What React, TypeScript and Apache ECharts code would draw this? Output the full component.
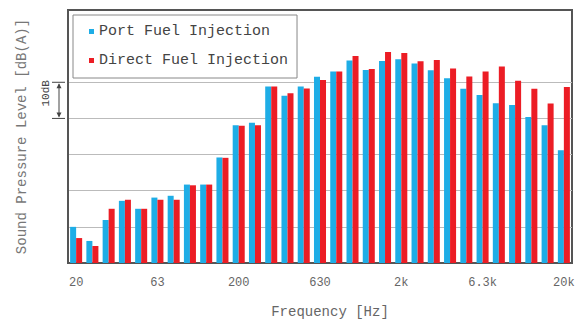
import React, { useEffect, useRef } from "react";
import * as echarts from "echarts";

const bands = ["20", "25", "31.5", "40", "50", "63", "80", "100", "125", "160", "200", "250", "315", "400", "500", "630", "800", "1k", "1.25k", "1.6k", "2k", "2.5k", "3.15k", "4k", "5k", "6.3k", "8k", "10k", "12.5k", "16k", "20k"];
const portFuel = [10.0, 6.1, 11.9, 17.2, 15.0, 18.1, 18.6, 21.7, 21.7, 29.2, 38.1, 38.8, 48.8, 46.3, 48.8, 51.5, 53.0, 56.0, 53.4, 55.9, 56.4, 55.2, 53.3, 51.1, 48.2, 46.5, 44.2, 43.7, 40.4, 38.1, 31.2];
const directFuel = [6.9, 4.7, 15.0, 17.5, 15.0, 17.5, 17.5, 21.5, 21.7, 29.1, 38.0, 38.1, 48.8, 47.0, 48.3, 50.6, 53.0, 57.3, 53.7, 58.4, 58.1, 55.8, 56.2, 53.8, 51.6, 53.0, 54.4, 50.4, 48.2, 44.1, 48.7];
const seriesNames = ["Port Fuel Injection", "Direct Fuel Injection"];
const yMin = 0;
const yMax = 70;
const yStep = 10;
const gridColors = ["#bbbbbb", "#bbbbbb", "#bbbbbb", "#bbbbbb", "#bbbbbb", "#bbbbbb", "rgba(0,0,0,0)", "rgba(0,0,0,0)"];

export default function App() {
  const ref = useRef<HTMLDivElement>(null);
  useEffect(() => {
    const chart = echarts.init(ref.current!, null, { renderer: "svg" });
    const mono = "'Liberation Mono', 'DejaVu Sans Mono', monospace";
    chart.setOption({
      animation: false,
      backgroundColor: "#ffffff",
      grid: { left: 68, right: 10, top: 10, bottom: 62, show: true, borderColor: "#555", borderWidth: 2 },
      legend: {
        data: seriesNames,
        orient: "vertical",
        left: 73,
        top: 15,
        icon: "rect",
        itemWidth: 5,
        itemHeight: 5,
        itemGap: 14,
        padding: [9, 9, 10, 16],
        borderColor: "#888",
        borderWidth: 1,
        backgroundColor: "#fff",
        textStyle: { fontFamily: mono, fontSize: 15, color: "#444" },
      },
      xAxis: {
        type: "category",
        data: bands,
        axisLine: { lineStyle: { color: "#555", width: 2 } },
        axisTick: { show: false },
        axisLabel: { interval: 4, color: "#666", fontFamily: mono, fontSize: 12, margin: 14 },
        name: "Frequency [Hz]",
        nameLocation: "middle",
        nameGap: 42,
        nameTextStyle: { fontFamily: mono, fontSize: 14, color: "#666", padding: [0, 0, 0, 20] },
      },
      yAxis: {
        type: "value",
        min: yMin,
        max: yMax,
        interval: yStep,
        axisLabel: { show: false },
        axisTick: { show: false },
        axisLine: { show: true, lineStyle: { color: "#555", width: 2 } },
        splitLine: { show: true, lineStyle: { color: gridColors, width: 1 } },
        name: "Sound Pressure Level [dB(A)]",
        nameLocation: "middle",
        nameGap: 39,
        nameTextStyle: { fontFamily: mono, fontSize: 14, color: "#777" },
      },
      series: [
        {
          name: seriesNames[0],
          type: "bar",
          data: portFuel,
          itemStyle: { color: "#1eade6" },
          barGap: "0%",
          barCategoryGap: "26%",
        },
        {
          name: seriesNames[1],
          type: "bar",
          data: directFuel,
          itemStyle: { color: "#ec1d25" },
          barGap: "0%",
          barCategoryGap: "26%",
        },
      ],
    });
    const y50 = chart.convertToPixel({ yAxisIndex: 0 }, 50) as number;
    const y40 = chart.convertToPixel({ yAxisIndex: 0 }, 40) as number;
    const c = "#444";
    chart.setOption({
      graphic: [
        { type: "line", shape: { x1: 52, y1: y50, x2: 65, y2: y50 }, style: { stroke: c, lineWidth: 1 } },
        { type: "line", shape: { x1: 52, y1: y40, x2: 65, y2: y40 }, style: { stroke: c, lineWidth: 1 } },
        { type: "line", shape: { x1: 59, y1: y50 + 2, x2: 59, y2: y40 - 2 }, style: { stroke: c, lineWidth: 1 } },
        { type: "polygon", shape: { points: [[59, y50 + 1], [56.5, y50 + 6], [61.5, y50 + 6]] }, style: { fill: c } },
        { type: "polygon", shape: { points: [[59, y40 - 1], [56.5, y40 - 6], [61.5, y40 - 6]] }, style: { fill: c } },
        {
          type: "text",
          x: 46,
          y: y50 + 11,
          rotation: Math.PI / 2,
          style: { text: "10dB", font: "11px 'Liberation Mono', monospace", fill: c, align: "center", verticalAlign: "middle" },
        },
      ],
    });
    return () => chart.dispose();
  }, []);
  return <div ref={ref} style={{ position: "absolute", left: 0, top: 0, width: 582, height: 325 }} />;
}
